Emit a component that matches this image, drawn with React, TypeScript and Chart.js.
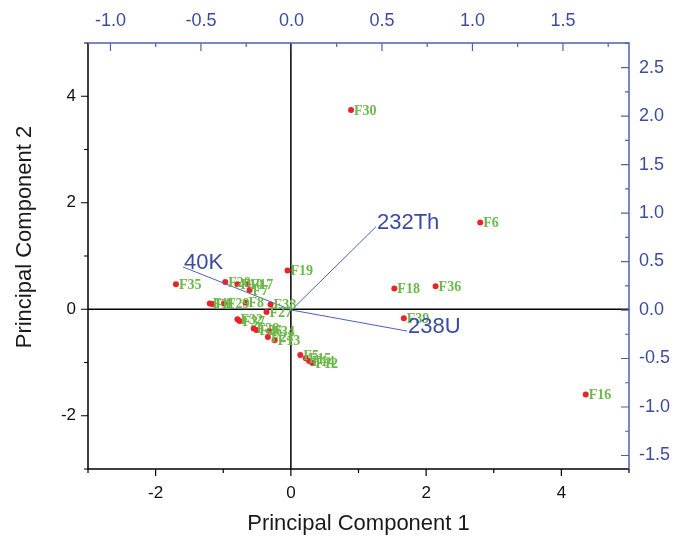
import { useEffect, useRef } from 'react';
import { Chart, registerables } from 'chart.js';

Chart.register(...registerables);

// Sample scores (Principal Component 1 / 2)
const sampleNames = ['F30', 'F6', 'F16', 'F19', 'F18', 'F36', 'F39', 'F35', 'F20', 'F10', 'F17', 'F7', 'F11', 'F1', 'F29', 'F8', 'F38', 'F27', 'F32', 'F37', 'F28', 'F26', 'F34', 'F24', 'F13', 'F5', 'F15', 'F14', 'F12'];
const pc1Scores = [0.89, 2.80, 4.36, -0.05, 1.53, 2.14, 1.67, -1.70, -0.97, -0.79, -0.64, -0.61, -1.20, -1.16, -0.99, -0.67, -0.30, -0.36, -0.79, -0.76, -0.55, -0.51, -0.32, -0.34, -0.24, 0.14, 0.22, 0.27, 0.32];
const pc2Scores = [3.74, 1.63, -1.60, 0.73, 0.39, 0.43, -0.17, 0.47, 0.51, 0.47, 0.47, 0.36, 0.11, 0.10, 0.11, 0.12, 0.09, -0.05, -0.19, -0.22, -0.36, -0.39, -0.41, -0.52, -0.58, -0.86, -0.92, -0.97, -1.01];

// Variable loadings (top / right axes)
const loadingNames = ['232Th', '238U', '40K'];
const loadingPC1 = [0.467, 0.639, -0.599];
const loadingPC2 = [0.858, -0.217, 0.444];

// Axis ranges and tick labels
const scoreXRange = [-3, 5];
const scoreYRange = [-3, 5];
const loadXRange = [-1.124, 1.865];
const loadYRange = [-1.639, 2.753];
const bottomTicks = [-2, 0, 2, 4];
const leftTicks = [-2, 0, 2, 4];
const topTicks = [-1.0, -0.5, 0.0, 0.5, 1.0, 1.5];
const rightTicks = [-1.5, -1.0, -0.5, 0.0, 0.5, 1.0, 1.5, 2.0, 2.5];

const BLUE = '#3B4CA0';
const BLUE_LINE = '#4E60B4';
const GREEN = '#6CB94A';
const RED = '#E8232A';
const SANS = '"Liberation Sans", Arial, sans-serif';
const SERIF = '"Liberation Serif", "Times New Roman", serif';

const biplotPlugin = {
  id: 'biplot',
  beforeDatasetsDraw(chart: any) {
    const { ctx, chartArea: a, scales } = chart;
    const x0 = scales.x.getPixelForValue(0);
    const y0 = scales.y.getPixelForValue(0);
    ctx.save();
    ctx.strokeStyle = '#000';
    ctx.lineWidth = 1.5;
    ctx.beginPath();
    ctx.moveTo(x0, a.top);
    ctx.lineTo(x0, a.bottom);
    ctx.moveTo(a.left, y0);
    ctx.lineTo(a.right, y0);
    ctx.stroke();
    ctx.restore();
  },
  afterDatasetsDraw(chart: any) {
    const { ctx, chartArea: a, scales } = chart;
    const { x, y, x2, y2 } = scales;
    ctx.save();
    // sample labels
    ctx.font = `bold 14px ${SERIF}`;
    ctx.fillStyle = GREEN;
    ctx.textAlign = 'left';
    ctx.textBaseline = 'middle';
    sampleNames.forEach((n, i) => {
      const px = x.getPixelForValue(pc1Scores[i]);
      const py = y.getPixelForValue(pc2Scores[i]);
      ctx.fillText(n, px + 3, py + 1);
    });
    // loading labels
    ctx.font = `22px ${SANS}`;
    ctx.fillStyle = BLUE;
    loadingNames.forEach((n, i) => {
      const px = x2.getPixelForValue(loadingPC1[i]);
      const py = y2.getPixelForValue(loadingPC2[i]);
      ctx.fillText(n, px + 1, py - 4);
    });

    // axis frame
    ctx.lineWidth = 1.5;
    ctx.strokeStyle = '#000';
    ctx.beginPath();
    ctx.moveTo(a.left, a.top);
    ctx.lineTo(a.left, a.bottom);
    ctx.lineTo(a.right, a.bottom);
    ctx.stroke();
    ctx.strokeStyle = BLUE_LINE;
    ctx.beginPath();
    ctx.moveTo(a.left, a.top);
    ctx.lineTo(a.right, a.top);
    ctx.lineTo(a.right, a.bottom);
    ctx.stroke();

    // tick marks
    ctx.lineWidth = 1.2;
    ctx.strokeStyle = '#000';
    ctx.beginPath();
    for (let v = scoreXRange[0]; v <= scoreXRange[1]; v += 1) {
      const px = x.getPixelForValue(v);
      const len = v % 2 === 0 ? 7 : 4;
      ctx.moveTo(px, a.bottom);
      ctx.lineTo(px, a.bottom + len);
    }
    for (let v = scoreYRange[0]; v <= scoreYRange[1]; v += 1) {
      const py = y.getPixelForValue(v);
      const len = v % 2 === 0 ? 7 : 4;
      ctx.moveTo(a.left, py);
      ctx.lineTo(a.left - len, py);
    }
    ctx.stroke();
    ctx.strokeStyle = BLUE_LINE;
    ctx.beginPath();
    for (let k = -4; k <= 7; k++) {
      const v = k * 0.25;
      if (v < loadXRange[0] || v > loadXRange[1]) continue;
      const px = x2.getPixelForValue(v);
      const len = k % 2 === 0 ? 8 : 4;
      ctx.moveTo(px, a.top);
      ctx.lineTo(px, a.top + len);
    }
    for (let k = -6; k <= 11; k++) {
      const v = k * 0.25;
      if (v < loadYRange[0] || v > loadYRange[1]) continue;
      const py = y2.getPixelForValue(v);
      const len = k % 2 === 0 ? 8 : 4;
      ctx.moveTo(a.right, py);
      ctx.lineTo(a.right - len, py);
    }
    ctx.stroke();

    // axis titles
    ctx.fillStyle = '#1a1a1a';
    ctx.font = `22px ${SANS}`;
    ctx.textAlign = 'center';
    ctx.textBaseline = 'middle';
    ctx.fillText('Principal Component 1', (a.left + a.right) / 2, 524);
    ctx.translate(25, 237);
    ctx.rotate(-Math.PI / 2);
    ctx.fillText('Principal Component 2', 0, 0);
    ctx.restore();
  },
};

function setTicks(values: number[]) {
  return (scale: any) => {
    scale.ticks = values.map((v) => ({ value: v }));
  };
}

export default function App() {
  const ref = useRef<HTMLCanvasElement | null>(null);

  useEffect(() => {
    document.body.style.margin = '0';
    if (!ref.current) return;
    const scoreData = pc1Scores.map((v, i) => ({ x: v, y: pc2Scores[i] }));
    const loadingSets = loadingNames.map((n, i) => ({
      type: 'line' as const,
      label: n,
      data: [
        { x: 0, y: 0 },
        { x: loadingPC1[i], y: loadingPC2[i] },
      ],
      xAxisID: 'x2',
      yAxisID: 'y2',
      borderColor: BLUE_LINE,
      borderWidth: 1,
      pointRadius: 0,
      showLine: true,
      fill: false,
    }));
    const chart = new Chart(ref.current, {
      type: 'scatter',
      data: {
        datasets: [
          ...loadingSets,
          {
            type: 'scatter' as const,
            label: 'Samples',
            data: scoreData,
            xAxisID: 'x',
            yAxisID: 'y',
            backgroundColor: RED,
            borderColor: RED,
            borderWidth: 0,
            pointRadius: 3,
          },
        ] as any,
      },
      options: {
        animation: false,
        responsive: true,
        maintainAspectRatio: false,
        layout: { padding: 0 },
        plugins: { legend: { display: false }, tooltip: { enabled: false } },
        scales: {
          x: {
            type: 'linear',
            position: 'bottom',
            min: scoreXRange[0],
            max: scoreXRange[1],
            afterBuildTicks: setTicks(bottomTicks),
            afterFit: (s: any) => { s.height = 68; },
            grid: { display: false, drawTicks: false },
            border: { display: false },
            ticks: { color: '#111', font: { size: 17, family: SANS }, padding: 14, autoSkip: false, maxRotation: 0, callback: (v: any) => String(v) },
          },
          x2: {
            type: 'linear',
            position: 'top',
            min: loadXRange[0],
            max: loadXRange[1],
            afterBuildTicks: setTicks(topTicks),
            afterFit: (s: any) => { s.height = 43; },
            grid: { display: false, drawTicks: false },
            border: { display: false },
            ticks: { color: BLUE, font: { size: 18, family: SANS }, padding: 11, autoSkip: false, maxRotation: 0, callback: (v: any) => Number(v).toFixed(1) },
          },
          y: {
            type: 'linear',
            position: 'left',
            min: scoreYRange[0],
            max: scoreYRange[1],
            afterBuildTicks: setTicks(leftTicks),
            afterFit: (s: any) => { s.width = 88; },
            grid: { display: false, drawTicks: false },
            border: { display: false },
            ticks: { color: '#111', font: { size: 17, family: SANS }, padding: 12, autoSkip: false, callback: (v: any) => String(v) },
          },
          y2: {
            type: 'linear',
            position: 'right',
            min: loadYRange[0],
            max: loadYRange[1],
            afterBuildTicks: setTicks(rightTicks),
            afterFit: (s: any) => { s.width = 57; },
            grid: { display: false, drawTicks: false },
            border: { display: false },
            ticks: { color: BLUE, font: { size: 18, family: SANS }, padding: 10, autoSkip: false, callback: (v: any) => Number(v).toFixed(1) },
          },
        },
      } as any,
      plugins: [biplotPlugin],
    });
    return () => chart.destroy();
  }, []);

  return (
    <div style={{ width: 686, height: 537, position: 'relative', background: '#fff' }}>
      <canvas ref={ref} />
    </div>
  );
}
